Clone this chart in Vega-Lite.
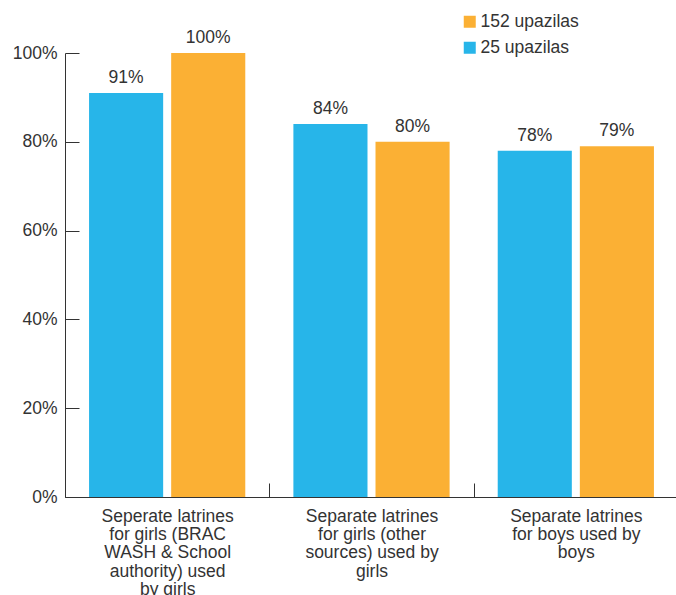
{
  "$schema": "https://vega.github.io/schema/vega-lite/v6.json",
  "width": 613,
  "height": 444,
  "autosize": "none",
  "padding": {"left": 65, "top": 53, "right": 0, "bottom": 98},
  "config": {
    "view": {"stroke": null},
    "font": "Liberation Sans"
  },
  "data": {
    "values": [
      {"group": "Seperate latrines\nfor girls (BRAC\nWASH & School\nauthority) used\nby girls", "series": "25 upazilas", "share": 0.91},
      {"group": "Seperate latrines\nfor girls (BRAC\nWASH & School\nauthority) used\nby girls", "series": "152 upazilas", "share": 1.0},
      {"group": "Separate latrines\nfor girls (other\nsources) used by\ngirls", "series": "25 upazilas", "share": 0.84},
      {"group": "Separate latrines\nfor girls (other\nsources) used by\ngirls", "series": "152 upazilas", "share": 0.8},
      {"group": "Separate latrines\nfor boys used by\nboys", "series": "25 upazilas", "share": 0.78},
      {"group": "Separate latrines\nfor boys used by\nboys", "series": "152 upazilas", "share": 0.79}
    ]
  },
  "encoding": {
    "x": {
      "field": "group",
      "type": "nominal",
      "sort": null,
      "scale": {"paddingInner": 0, "paddingOuter": 0},
      "axis": {
        "title": null,
        "labelAngle": 0,
        "labelExpr": "split(datum.label, '\\n')",
        "labelFontSize": 17.5,
        "labelColor": "#333333",
        "labelLineHeight": 18.4,
        "labelBaseline": "top",
        "labelPadding": 24,
        "labelLimit": 0,
        "domainColor": "#333333",
        "tickColor": "#333333",
        "tickSize": -14,
        "tickBand": "extent"
      }
    },
    "xOffset": {
      "field": "series",
      "sort": ["25 upazilas", "152 upazilas"],
      "scale": {"paddingInner": 0.0976, "paddingOuter": 0.293}
    },
    "y": {
      "field": "share",
      "type": "quantitative",
      "scale": {"domain": [0, 1], "nice": false},
      "axis": {
        "title": null,
        "values": [0, 0.2, 0.4, 0.6, 0.8, 1],
        "format": ".0%",
        "grid": false,
        "labelFontSize": 17.5,
        "labelColor": "#333333",
        "labelPadding": 22,
        "domainColor": "#333333",
        "tickColor": "#333333",
        "tickSize": -14
      }
    }
  },
  "layer": [
    {
      "mark": {"type": "bar"},
      "encoding": {
        "color": {
          "field": "series",
          "type": "nominal",
          "scale": {
            "domain": ["152 upazilas", "25 upazilas"],
            "range": ["#FBB034", "#27B5E9"]
          },
          "legend": {
            "title": null,
            "orient": "none",
            "legendX": 396,
            "legendY": -40,
            "symbolType": "square",
            "symbolSize": 144,
            "symbolStrokeWidth": 0,
            "labelFontSize": 17.5,
            "labelColor": "#333333",
            "labelOffset": 2,
            "rowPadding": 7
          }
        }
      }
    },
    {
      "mark": {
        "type": "text",
        "baseline": "alphabetic",
        "dy": -10,
        "fontSize": 17.5,
        "color": "#333333"
      },
      "encoding": {
        "text": {"field": "share", "type": "quantitative", "format": ".0%"}
      }
    }
  ]
}
